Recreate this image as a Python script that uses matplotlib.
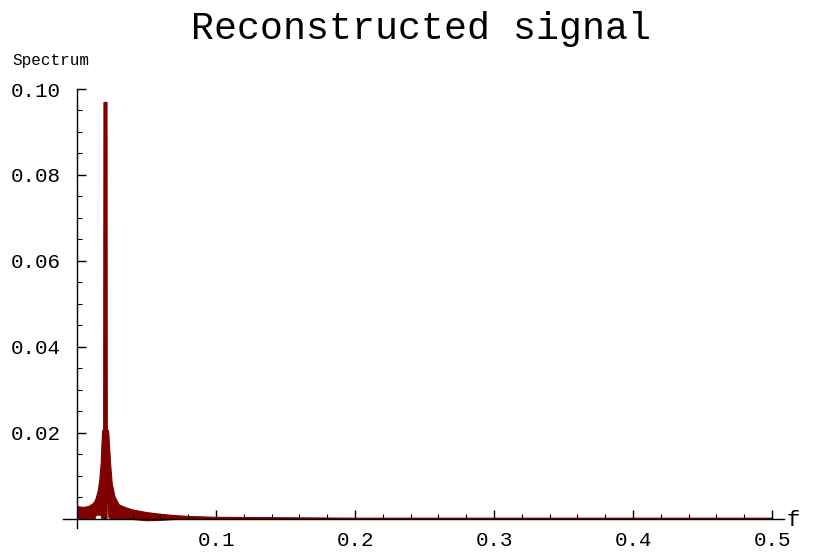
import numpy as np
import matplotlib.pyplot as plt
from matplotlib.ticker import FixedLocator

# spectrum: frequency grid with upper / lower edge of the noisy trace
freq = [0.000, 0.004, 0.008, 0.011, 0.0125, 0.0135, 0.015, 0.016, 0.017, 0.0175,
        0.018, 0.0188, 0.0190, 0.0212, 0.0214, 0.0222, 0.0225, 0.0232, 0.024, 0.025,
        0.027, 0.030, 0.035, 0.040, 0.050, 0.060, 0.070, 0.080, 0.100, 0.150,
        0.200, 0.300, 0.400, 0.500]
spec_upper = [0.0030, 0.0028, 0.0030, 0.0036, 0.0042, 0.0050, 0.0068, 0.0092, 0.0130, 0.0170,
              0.0205, 0.0210, 0.0970, 0.0970, 0.0210, 0.0207, 0.0200, 0.0160, 0.0120, 0.0082,
              0.0052, 0.0034, 0.0027, 0.0022, 0.0016, 0.0012, 0.0009, 0.0007, 0.0005, 0.0004,
              0.0003, 0.0003, 0.0003, 0.0003]
spec_lower = [0.0000, 0.0000, 0.0001, 0.0002, 0.0002, 0.0010, 0.0010, 0.0010, 0.0010, 0.0002,
              0.0000, 0.0000, 0.0000, 0.0000, 0.0040, 0.0040, 0.0005, 0.0003, 0.0002, 0.0002,
              0.0002, 0.0002, 0.0001, 0.0000, -0.0003, -0.0002, 0.0000, 0.0000, 0.0000, 0.0000,
              0.0000, 0.0000, 0.0000, 0.0000]

x_major = [0.1, 0.2, 0.3, 0.4, 0.5]
y_major = [0.02, 0.04, 0.06, 0.08, 0.10]

plt.rcParams['font.family'] = ['Liberation Mono', 'DejaVu Sans Mono']

fig = plt.figure(figsize=(8.22, 5.54), dpi=100)
# axes box in pixels: x 63..784, y 89..528 (from top)
ax = fig.add_axes([63 / 822, 1 - 528 / 554, (784 - 63) / 822, (528 - 89) / 554])

col = '#800000'
ax.fill_between(freq, spec_lower, spec_upper, color=col, linewidth=0.8, edgecolor=col)

ax.set_xlim(-0.0101, 0.5086)
ax.set_ylim(-0.0021, 0.1)

for s in ['top', 'right']:
    ax.spines[s].set_visible(False)
ax.spines['left'].set_position(('data', 0))
ax.spines['bottom'].set_position(('data', 0))
ax.spines['left'].set_linewidth(1.0)
ax.spines['bottom'].set_linewidth(1.0)

ax.xaxis.set_major_locator(FixedLocator(x_major))
ax.xaxis.set_minor_locator(FixedLocator([0.02 * i for i in range(1, 26) if i % 5 != 0]))
ax.yaxis.set_major_locator(FixedLocator(y_major))
ax.yaxis.set_minor_locator(FixedLocator([0.005 * i for i in range(1, 20) if i % 4 != 0]))
ax.set_xticklabels([f'{v:.1f}' for v in x_major])
ax.set_yticklabels([f'{v:.2f}' for v in y_major])

ax.tick_params(axis='both', which='major', direction='in', length=6.5, width=1.0,
               labelsize=15)
ax.tick_params(axis='x', which='major', pad=9)
ax.tick_params(axis='y', which='major', pad=12)
ax.tick_params(axis='both', which='minor', direction='in', length=3.5, width=0.8)

fig.text(421 / 822, 1 - 29 / 554, 'Reconstructed signal', ha='center', va='center', fontsize=27.5)
fig.text(12 / 822, 1 - 60 / 554, 'Spectrum', ha='left', va='center', fontsize=11.5)
fig.text(786 / 822, 1 - 521 / 554, 'f', ha='left', va='center', fontsize=16)

fig.savefig('out.png', dpi=100)
